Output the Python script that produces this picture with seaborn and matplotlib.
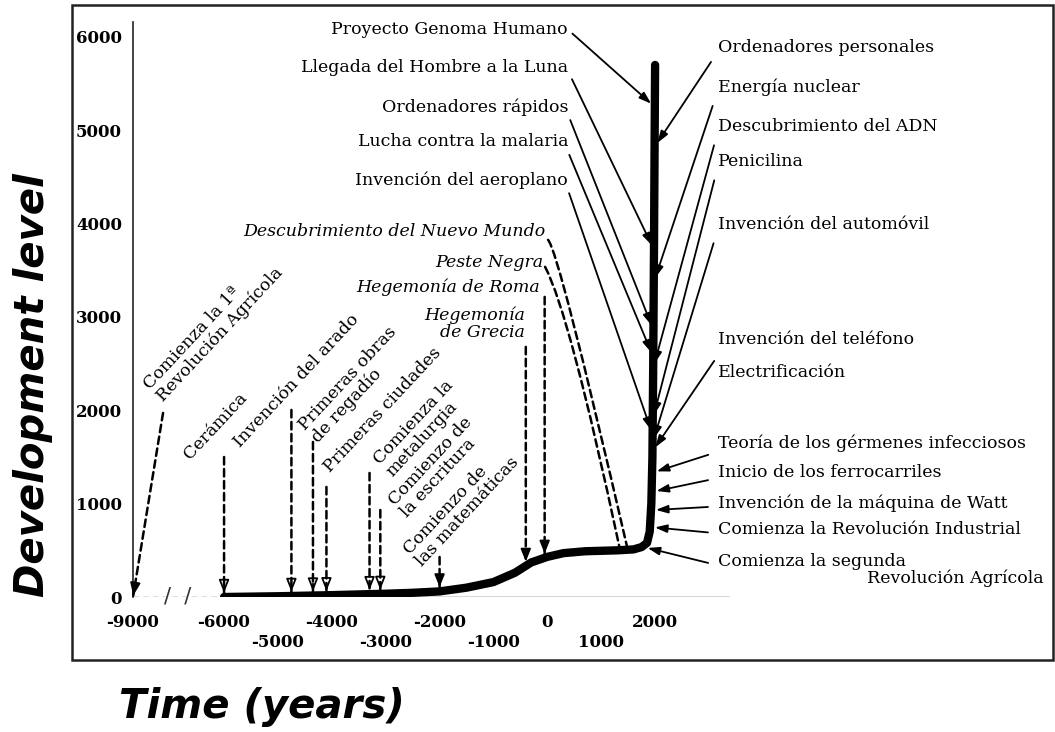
import numpy as np
import matplotlib
matplotlib.use("Agg")
import matplotlib.pyplot as plt
import seaborn as sns
from matplotlib.patches import Rectangle

# ---------------------------------------------
# Data
# ---------------------------------------------
# development curve (schematic)
years = [-6000, -5000, -4000, -3000, -2500, -2000, -1500, -1000, -600, -300,
         0, 300, 700, 1000, 1300, 1600, 1750, 1850, 1900, 1930, 1950, 1965,
         1980, 1990, 2000]
levels = [0, 8, 20, 35, 45, 60, 100, 160, 260, 370,
          430, 470, 490, 495, 500, 510, 535, 580, 700, 1000, 1500, 2500,
          3800, 4800, 5700]

ytick_vals = [0, 1000, 2000, 3000, 4000, 5000, 6000]
xtick_years = [-9000, -6000, -5000, -4000, -3000, -2000, -1000, 0, 1000, 2000]

# early events: dashed arrows down onto the flat part of the curve
early_labels = ["Comienza la 1ª\nRevolución Agrícola", "Cerámica", "Invención del arado",
                "Primeras obras\nde regadío", "Primeras ciudades", "Comienza la\nmetalurgia",
                "Comienzo de\nla escritura", "Comienzo de\nlas matemáticas"]
early_years = [-9000, -6000, -4750, -4350, -4100, -3300, -3100, -2000]

# antiquity / middle ages (italic labels, dashed arrows)
ancient_labels = ["Hegemonía\nde Grecia", "Hegemonía de Roma", "Peste Negra",
                  "Descubrimiento del Nuevo Mundo"]
ancient_years = [-400, -50, 1350, 1492]

# modern events hitting the vertical part, given by level on the curve
left_labels = ["Proyecto Genoma Humano", "Llegada del Hombre a la Luna",
               "Ordenadores rápidos", "Lucha contra la malaria", "Invención del aeroplano"]
left_levels = [5250, 3720, 2860, 2570, 1740]

right_labels = ["Ordenadores personales", "Energía nuclear", "Descubrimiento del ADN",
                "Penicilina", "Invención del automóvil", "Invención del teléfono",
                "Teoría de los gérmenes infecciosos", "Inicio de los ferrocarriles",
                "Invención de la máquina de Watt", "Comienza la Revolución Industrial"]
right_levels = [4820, 3370, 2450, 1900, 1650, 1560, 1330, 1125, 930, 750]

# ---------------------------------------------
# Style
# ---------------------------------------------
sns.set_style("white")
plt.rcParams["font.family"] = ["DejaVu Serif"]
plt.rcParams["axes.unicode_minus"] = False
plt.rcParams["text.color"] = "black"
plt.rcParams["axes.labelcolor"] = "black"
plt.rcParams["xtick.color"] = "black"
plt.rcParams["ytick.color"] = "black"

BREAK = -6000
FS = 12.5


def xpos(year):
    # the axis is broken before -6000: compress that span
    year = np.asarray(year, dtype=float)
    return np.where(year < BREAK, BREAK + (year - BREAK) * 0.5633, year)


def on_curve_level(year):
    return float(np.interp(year, years, levels))


def on_curve_year(level):
    return float(np.interp(level, levels, years))


fig = plt.figure(figsize=(10.55, 7.32), dpi=100)
ax = fig.add_axes([133 / 1055, 135 / 732, 597 / 1055, 575 / 732])
ax.set_xlim(-7690, 3390)
ax.set_ylim(0, 6160)

# main curve
sns.lineplot(x=years, y=levels, ax=ax, color="black", linewidth=6,
             sort=False, solid_capstyle="round", zorder=3)

# axes lines
for s in ["top", "right", "bottom"]:
    ax.spines[s].set_visible(False)
ax.spines["left"].set_color("#222222")
ax.spines["left"].set_linewidth(1.2)
ax.hlines(0, BREAK, 3390, color="#333333", lw=1.0, zorder=2)
ax.hlines(0, float(xpos(-9000)), BREAK, color="#555555", lw=1.0,
          linestyles=(0, (4, 3)), zorder=2)
ax.text(-6870, 0, "/  /", fontsize=15, family="DejaVu Sans", ha="center",
        va="center", color="#333333")

ax.set_yticks(ytick_vals)
ax.set_yticklabels([str(v) for v in ytick_vals], fontsize=12, fontweight="bold")
xt_labels = [str(y) if y in (-9000, -6000, -4000, -2000, 0, 2000) else "\n" + str(y)
             for y in xtick_years]
ax.set_xticks(xpos(xtick_years))
ax.set_xticklabels(xt_labels, fontsize=12, fontweight="bold", linespacing=1.25)
ax.tick_params(axis="both", length=0)
ax.tick_params(axis="y", pad=8)
ax.tick_params(axis="x", pad=12)

ax.set_xlabel("Time (years)", fontsize=29, fontweight="bold", style="italic",
              family="DejaVu Sans")
ax.xaxis.set_label_coords(262 / 1055, 1 - 707 / 732, transform=fig.transFigure)
ax.xaxis.label.set_va("center")
ax.set_ylabel("Development level", fontsize=29, fontweight="bold", style="italic",
              family="DejaVu Sans")
ax.yaxis.set_label_coords(33 / 1055, 1 - 385 / 732, transform=fig.transFigure)
ax.yaxis.label.set_va("center")


def dashed_arrow(start, end, head="open", conn="arc3", shrink=3):
    ax.annotate("", xy=end, xytext=start,
                arrowprops=dict(arrowstyle="-", color="black", lw=1.8,
                                linestyle=(0, (3, 1.8)), shrinkA=0, shrinkB=shrink,
                                connectionstyle=conn), zorder=4)
    if head:
        p0 = ax.transData.transform(start)
        p1 = ax.transData.transform(end)
        d = (p0 - p1) / np.hypot(*(p0 - p1)) * 12
        ax.annotate("", xy=end, xytext=(d[0], d[1]), textcoords="offset pixels",
                    arrowprops=dict(arrowstyle="-|>,head_length=0.55,head_width=0.22",
                                    fc="none" if head == "open" else "black",
                                    ec="black", lw=1.3, mutation_scale=14,
                                    shrinkA=0, shrinkB=shrink), zorder=4)


# --- early events (rotated labels, anchored at the start of the last line) ---
early_text_pos = [(-7132, 2090), (-6631, 1468), (-5703, 1597), (-4255, 1651),
                  (-4033, 1329), (-2882, 1286), (-2604, 847), (-2325, 322)]
early_start_lv = [1972, 1500, 2004, 1661, 1179, 1329, 932, 429]
for lab, yr, tp, slv in zip(early_labels, early_years, early_text_pos, early_start_lv):
    ax.text(tp[0], tp[1], lab, rotation=47, rotation_mode="anchor", ha="left",
            va="baseline", multialignment="left", fontsize=FS, linespacing=1.0)
    if yr == -9000:
        dashed_arrow((-7132, slv), (float(xpos(yr)), 0), head="filled", shrink=1)
    else:
        tip = (yr, on_curve_level(yr))
        dashed_arrow((yr, slv), tip,
                     head="filled" if yr == -2000 else "open", shrink=3)

# --- ancient events (italic) ---
ancient_text_pos = [(-415, 2926), (-135, 3323), (-80, 3580), (-40, 3912)]
ancient_start = [(-400, 2680), (-50, 3215), (-42, 3537), (13, 3826)]
ancient_conn = ["arc3", "arc3", "angle3,angleA=-62,angleB=-78",
                "angle3,angleA=-45,angleB=-77"]
for lab, yr, tp, st, cs in zip(ancient_labels, ancient_years, ancient_text_pos,
                               ancient_start, ancient_conn):
    ax.text(tp[0], tp[1], lab, ha="right", va="center", multialignment="right",
            fontsize=FS, style="italic", linespacing=1.0)
    tip = (yr, on_curve_level(yr))
    dashed_arrow(st, tip, head="filled" if yr < 1000 else None, conn=cs, shrink=3)

# --- modern events, left side ---
left_text_lv = [6077, 5670, 5252, 4877, 4469]
left_rel = [(1, 0.5), (1, 0.3), (1, 0.05), (1, -0.1), (1, -0.1)]
for lab, lv, tlv, rp in zip(left_labels, left_levels, left_text_lv, left_rel):
    ax.annotate(lab, xy=(on_curve_year(lv), lv), xytext=(385, tlv), ha="right",
                va="center", fontsize=FS,
                arrowprops=dict(arrowstyle="-|>,head_length=0.6,head_width=0.2",
                                color="black", lw=1.3, mutation_scale=12,
                                shrinkA=1, shrinkB=3.5, relpos=rp), zorder=5)

# --- modern events, right side ---
right_text_lv = [5884, 5456, 5037, 4662, 3987, 2755, 1651, 1329, 1008, 718]
right_rel = [(0, 0.3), (0, 0.4), (0, 0.3), (0, 0.3), (0, 0.3), (0, -0.4),
             (0, 0.0), (0, 0.2), (0, 0.3), (0, 0.3)]
for lab, lv, tlv, rp in zip(right_labels, right_levels, right_text_lv, right_rel):
    ax.annotate(lab, xy=(on_curve_year(lv), lv), xytext=(3170, tlv), ha="left",
                va="center", fontsize=FS,
                arrowprops=dict(arrowstyle="-|>,head_length=0.6,head_width=0.2",
                                color="black", lw=1.3, mutation_scale=12,
                                shrinkA=5, shrinkB=3.5, relpos=rp), zorder=5)

ax.text(3170, 2401, "Electrificación", ha="left", va="center", fontsize=FS)
ax.annotate("Comienza la segunda", xy=(1760, on_curve_level(1760)), xytext=(3170, 375),
            ha="left", va="center", fontsize=FS,
            arrowprops=dict(arrowstyle="-|>,head_length=0.6,head_width=0.2",
                            color="black", lw=1.3, mutation_scale=12,
                            shrinkA=5, shrinkB=4, relpos=(0, 0.3)), zorder=5)
ax.text(5934, 204, "Revolución Agrícola", ha="left", va="center", fontsize=FS)

# outer frame of the scanned figure
fig.patches.append(Rectangle((72 / 1055, 72 / 732), 981 / 1055, 655 / 732,
                             fill=False, lw=1.8, ec="#222222",
                             transform=fig.transFigure, figure=fig))

fig.savefig("out.png", dpi=100)
